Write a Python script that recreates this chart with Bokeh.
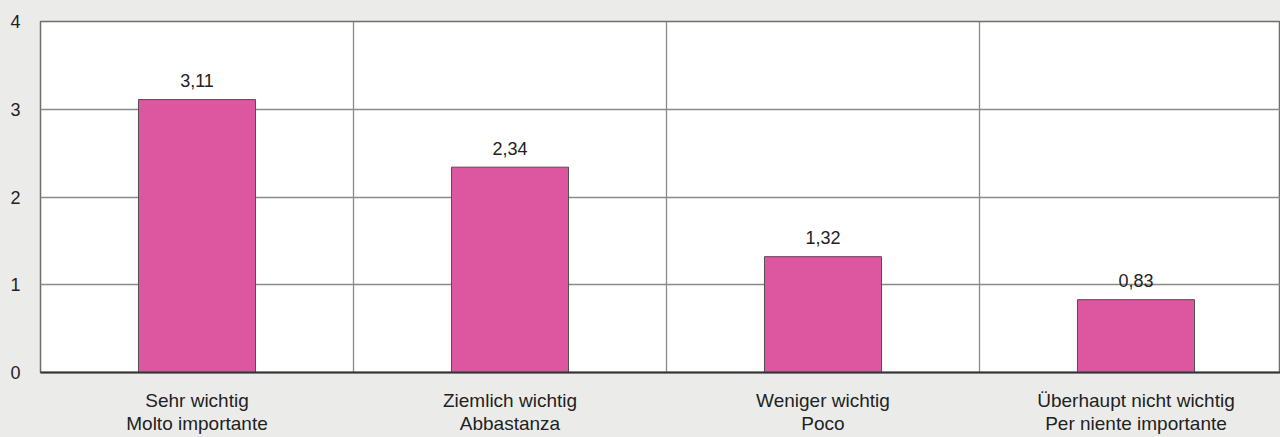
from bokeh.plotting import figure
from bokeh.models import Range1d, FixedTicker, ColumnDataSource
from bokeh.core.properties import value
from bokeh.embed import file_html
from bokeh.resources import INLINE

categories = ["Sehr wichtig\nMolto importante",
              "Ziemlich wichtig\nAbbastanza",
              "Weniger wichtig\nPoco",
              "Überhaupt nicht wichtig\nPer niente importante"]
values = [3.11, 2.34, 1.32, 0.83]
y_ticks = [0, 1, 2, 3, 4]

FONT = "Liberation Sans"
BG = "#ebecea"

xs = [i + 0.5 for i in range(len(categories))]
labels = [f"{v:.2f}".replace(".", ",") for v in values]
src = ColumnDataSource(dict(x=xs, top=values, label=labels))

p = figure(width=1280, height=437, output_backend="svg", toolbar_location=None,
           x_range=Range1d(0, 1240 / 313), y_range=Range1d(0, 4))
p.min_border_left = 40
p.min_border_right = 0
p.min_border_top = 21
p.min_border_bottom = 65
p.background_fill_color = "white"
p.border_fill_color = BG
p.outline_line_color = "#6e6e6e"
p.outline_line_width = 1.5

p.vbar(x="x", top="top", width=0.374, bottom=0, source=src,
       fill_color="#dc579f", line_color="#505050", line_width=1)

p.text(x="x", y="top", text="label", source=src, text_align="center",
       text_baseline="alphabetic", y_offset=-19, text_font=value(FONT),
       text_font_size="18px", text_color="#222222")

# grids
p.xgrid.ticker = FixedTicker(ticks=[1, 2, 3])
p.xgrid.grid_line_color = "#8a8a8a"
p.xgrid.grid_line_width = 1.3
p.ygrid.ticker = FixedTicker(ticks=[1, 2, 3, 4])
p.ygrid.grid_line_color = "#8a8a8a"
p.ygrid.grid_line_width = 1.3
p.xgrid.level = "underlay"
p.ygrid.level = "underlay"

# y axis
p.yaxis.ticker = FixedTicker(ticks=y_ticks)
p.yaxis.axis_line_color = None
p.yaxis.major_tick_line_color = None
p.yaxis.minor_tick_line_color = None
p.yaxis.major_label_standoff = 14
p.yaxis.major_label_text_font = FONT
p.yaxis.major_label_text_font_size = "18px"
p.yaxis.major_label_text_color = "#222222"

# x axis
p.xaxis.ticker = FixedTicker(ticks=xs)
p.xaxis.major_label_overrides = {x: c for x, c in zip(xs, categories)}
p.xaxis.axis_line_color = "#333333"
p.xaxis.axis_line_width = 2
p.xaxis.major_tick_line_color = None
p.xaxis.minor_tick_line_color = None
p.xaxis.major_label_standoff = 11
p.xaxis.major_label_text_font = FONT
p.xaxis.major_label_text_font_size = "19px"
p.xaxis.major_label_text_color = "#222222"
p.xaxis.major_label_text_line_height = 1.1

html = file_html(p, INLINE)
html = html.replace("<head>", "<head><style>html,body{margin:0;padding:0;background:%s;overflow:hidden;}</style>" % BG, 1)
open("out.html", "w").write(html)
